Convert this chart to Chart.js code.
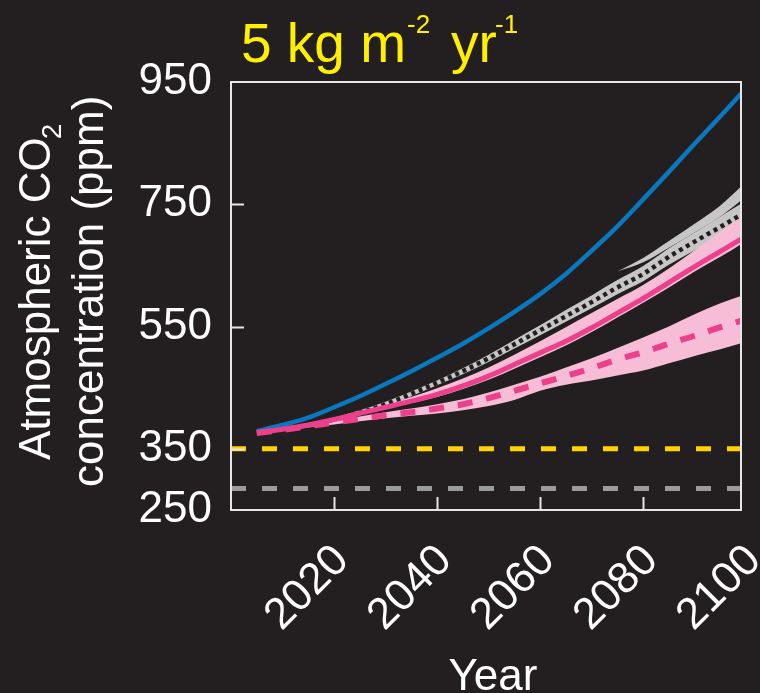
<!DOCTYPE html>
<html>
<head>
<meta charset="utf-8">
<script src="https://cdn.jsdelivr.net/npm/chart.js@4.4.1/dist/chart.umd.min.js"></script>
<style>
  html, body { margin: 0; padding: 0; background: #231f20; }
  canvas { display: block; }
</style>
</head>
<body>
<canvas id="grafico" width="760" height="693"></canvas>
<script>
// Años de la simulación
const anios = [2005, 2010, 2015, 2020, 2025, 2030, 2035, 2040, 2045, 2050,
               2055, 2060, 2065, 2070, 2075, 2080, 2085, 2090, 2095, 2100];

// Curvas principales (ppm)
const lineaAzul     = [379, 389, 401, 418, 436, 456, 477, 499, 522, 547, 574, 603, 636, 674, 714, 758, 803, 849, 894, 940];
const lineaPunteada = [376, 382, 389, 398, 409, 423, 440, 458, 477, 498, 521, 544, 567, 590, 614, 636, 664, 689, 713, 738];
const lineaRosa     = [376, 382, 389, 398, 408, 418, 428, 439, 453, 469, 488, 507, 526, 548, 572, 596, 622, 648, 673, 698];
const lineaRosaDiscontinua = [376, 381, 387, 393, 399, 405, 410, 416, 423, 433, 445, 457, 469, 482, 496, 508, 522, 535, 549, 562];

// Bandas de incertidumbre
const grisBajo  = [373, 379, 386, 395, 405, 419, 436, 454, 472, 492, 514, 536, 558, 580, 603, 624, 651, 675, 697, 720];
const grisAlto  = [379, 385, 392, 401, 413, 427, 444, 462, 482, 504, 528, 552, 577, 601, 626, 649, 678, 704, 730, 756];
const rosaBajo  = [376, 382, 389, 398, 407, 416, 425, 435, 448, 463, 481, 500, 519, 541, 565, 589, 614, 640, 664, 690];
const rosaAlto  = [376, 382, 390, 400, 411, 423, 435, 449, 465, 483, 504, 526, 549, 572, 595, 618, 645, 675, 705, 736];
const rosaDiscBajo = [376, 380, 385, 390, 395, 400, 404, 408, 413, 420, 430, 445, 455, 462, 470, 478, 490, 502, 513, 525];
const rosaDiscAlto = [376, 382, 389, 396, 403, 410, 416, 423, 431, 442, 455, 468, 483, 498, 515, 532, 550, 570, 588, 603];

// Cuña gris superior
const aniosCuna = [2075, 2080, 2085, 2090, 2095, 2100];
const cunaBajo  = [640, 655, 679, 704, 730, 763];
const cunaAlto  = [640, 662, 690, 718, 748, 787];

// Líneas de referencia
const aniosRef = [2000, 2100];
const objetivo350 = [350, 350];
const preindustrial = [285, 285];

// Marcas de los ejes
const marcasX = [2020, 2040, 2060, 2080, 2100];
const marcasY = [250, 350, 550, 750, 950];

const puntos = (xs, ys) => xs.map((x, i) => ({ x: x, y: ys[i] }));

const FUENTE = "'Liberation Sans', Arial, sans-serif";

function banda(xs, bajo, alto, color, orden) {
    return [
        { data: puntos(xs, bajo), borderWidth: 0, pointRadius: 0, fill: false, order: orden },
        { data: puntos(xs, alto), borderWidth: 0, pointRadius: 0, fill: '-1', backgroundColor: color, order: orden }
    ];
}

const datasets = [
    ...banda(aniosCuna, cunaBajo, cunaAlto, '#c6c6c6', 9),
    ...banda(anios, grisBajo, grisAlto, '#c6c6c6', 8),
    ...banda(anios, rosaBajo, rosaAlto, '#f7bdd6', 7),
    ...banda(anios, rosaDiscBajo, rosaDiscAlto, '#f7bdd6', 7),
    { data: puntos(aniosRef, objetivo350), borderColor: '#ffd200', borderWidth: 5, borderDash: [15, 16], pointRadius: 0, order: 5 },
    { data: puntos(aniosRef, preindustrial), borderColor: '#9b9b9b', borderWidth: 5, borderDash: [15, 16], pointRadius: 0, order: 5 },
    { data: puntos(anios, lineaAzul), borderColor: '#0a78bf', borderWidth: 4.5, pointRadius: 0, order: 3 },
    { data: puntos(anios, lineaPunteada), borderColor: '#231f20', borderWidth: 4.5, borderDash: [4, 4], pointRadius: 0, order: 2 },
    { data: puntos(anios, lineaRosa), borderColor: '#ec3f8c', borderWidth: 5, pointRadius: 0, order: 1 },
    { data: puntos(anios, lineaRosaDiscontinua), borderColor: '#ec3f8c', borderWidth: 6, borderDash: [15, 14], pointRadius: 0, order: 0 }
];

// Fondo, marco, marcas hacia dentro y textos
const decoracion = {
    id: 'decoracion',
    beforeDraw(chart) {
        const c = chart.ctx;
        c.save();
        c.fillStyle = '#231f20';
        c.fillRect(0, 0, chart.width, chart.height);
        c.restore();
    },
    afterDraw(chart) {
        const c = chart.ctx;
        const a = chart.chartArea;
        const ex = chart.scales.x, ey = chart.scales.y;
        c.save();
        c.strokeStyle = '#e6e6e6';
        c.lineWidth = 2;
        c.strokeRect(a.left, a.top, a.right - a.left, a.bottom - a.top);
        c.beginPath();
        marcasX.forEach(v => {
            if (v > ex.min && v < ex.max) {
                const px = Math.round(ex.getPixelForValue(v)) + 0.5;
                c.moveTo(px, a.bottom);
                c.lineTo(px, a.bottom - 13);
            }
        });
        marcasY.forEach(v => {
            if (v > ey.min && v < ey.max) {
                const py = Math.round(ey.getPixelForValue(v)) + 0.5;
                c.moveTo(a.left, py);
                c.lineTo(a.left + 13, py);
            }
        });
        c.stroke();

        // Título con superíndices
        c.fillStyle = '#fff000';
        c.textBaseline = 'alphabetic';
        c.textAlign = 'left';
        c.font = '55px ' + FUENTE;
        c.fillText('5 kg m', 241, 62);
        c.fillText('yr', 451, 62);
        c.font = '26px ' + FUENTE;
        c.fillText('-2', 407, 33);
        c.fillText('-1', 495, 33);

        // Título del eje Y
        c.fillStyle = '#ffffff';
        c.save();
        c.translate(50, 460);
        c.rotate(-Math.PI / 2);
        c.font = '44px ' + FUENTE;
        c.fillText('Atmospheric CO', 0, 0);
        const w = c.measureText('Atmospheric CO').width;
        c.font = '28px ' + FUENTE;
        c.fillText('2', w - 2, 11);
        c.restore();
        c.save();
        c.translate(103, 487);
        c.rotate(-Math.PI / 2);
        c.font = '44px ' + FUENTE;
        c.fillText('concentration (ppm)', 0, 0);
        c.restore();

        // Título del eje X
        c.font = '44px ' + FUENTE;
        c.textAlign = 'center';
        c.fillText('Year', 493, 690);
        c.restore();
    }
};

const config = {
    type: 'line',
    data: { datasets: datasets },
    options: {
        responsive: false,
        devicePixelRatio: 1,
        animation: false,
        layout: { padding: { top: 82, right: 19, left: 0, bottom: 0 } },
        elements: { line: { cubicInterpolationMode: 'monotone' } },
        plugins: { legend: { display: false }, tooltip: { enabled: false } },
        scales: {
            x: {
                type: 'linear',
                min: 2000,
                max: 2099,
                grid: { display: false, drawTicks: false },
                border: { display: false },
                afterBuildTicks: eje => { eje.ticks = marcasX.map(v => ({ value: v })); },
                afterFit: eje => { eje.height = 183; eje.paddingLeft = 0; eje.paddingRight = 0; },
                ticks: {
                    autoSkip: false,
                    minRotation: 45,
                    maxRotation: 45,
                    padding: 25,
                    labelOffset: 8,
                    color: '#ffffff',
                    font: { family: FUENTE, size: 44 },
                    callback: v => String(v)
                }
            },
            y: {
                min: 250,
                max: 950,
                grid: { display: false, drawTicks: false },
                border: { display: false },
                afterBuildTicks: eje => { eje.ticks = marcasY.map(v => ({ value: v })); },
                afterFit: eje => { eje.width = 231; eje.paddingTop = 0; eje.paddingBottom = 0; },
                ticks: {
                    padding: 19,
                    color: '#ffffff',
                    font: { family: FUENTE, size: 44 },
                    callback: v => String(v)
                }
            }
        }
    },
    plugins: [decoracion]
};

const ctx = document.getElementById('grafico').getContext('2d');
new Chart(ctx, config);
</script>
</body>
</html>
